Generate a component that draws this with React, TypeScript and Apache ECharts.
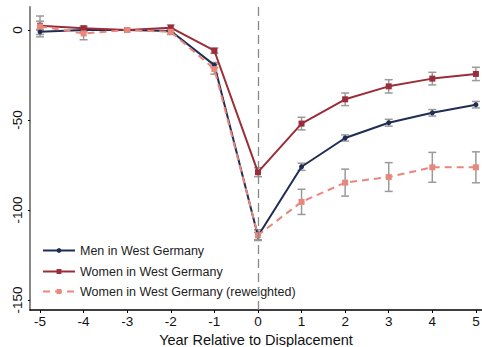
import React, { useEffect, useRef } from "react";
import * as echarts from "echarts";

const years = [-5, -4, -3, -2, -1, 0, 1, 2, 3, 4, 5];
const menValues = [-1, 0, 0, -0.5, -19.5, -114.5, -76, -60, -51.5, -46, -41.5];
const menErr = [1.5, 1, 0, 1, 1.5, 2, 2, 1.7, 1.9, 1.8, 1.8];
const womenValues = [2.4, 1, 0, 1.3, -11.5, -79, -52, -38.5, -31.3, -27, -24.4];
const womenErr = [2.5, 1.2, 0, 1.5, 1.5, 2.5, 3.5, 3.5, 3.7, 3.5, 3.7];
const rewValues = [2, -1.9, 0, -1, -21.7, -114, -95.5, -84.8, -81.7, -76.3, -76.3];
const rewErr = [5.8, 3.5, 0, 1.5, 2.8, 3, 7, 7.5, 8, 8.3, 8.6];
const yTicks = [0, -50, -100, -150];
const seriesNames = [
  "Men in West Germany",
  "Women in West Germany",
  "Women in West Germany (reweighted)",
];
const legendRowTops = [244, 265, 285];

const NAVY = "#1f2d55";
const RED = "#9b2d38";
const PINK = "#e8877b";
const GRAY = "#9a9a9a";

function errData(vals: number[], errs: number[]) {
  return years.map((x, i) => [x, vals[i] - errs[i], vals[i] + errs[i]]);
}

function errSeries(vals: number[], errs: number[]) {
  return {
    type: "custom",
    silent: true,
    z: 1,
    data: errData(vals, errs),
    renderItem: (params: any, api: any) => {
      const x = api.value(0);
      const lo = api.coord([x, api.value(1)]);
      const hi = api.coord([x, api.value(2)]);
      if (Math.abs(lo[1] - hi[1]) < 1) return { type: "group", children: [] };
      const w = 4;
      const style = { stroke: GRAY, lineWidth: 1.5 };
      return {
        type: "group",
        children: [
          { type: "line", shape: { x1: lo[0], y1: lo[1], x2: hi[0], y2: hi[1] }, style },
          { type: "line", shape: { x1: lo[0] - w, y1: lo[1], x2: lo[0] + w, y2: lo[1] }, style },
          { type: "line", shape: { x1: hi[0] - w, y1: hi[1], x2: hi[0] + w, y2: hi[1] }, style },
        ],
      };
    },
  };
}

export default function App() {
  const ref = useRef<HTMLDivElement>(null);
  useEffect(() => {
    const chart = echarts.init(ref.current!, null, { renderer: "svg" });
    const font = "Liberation Sans, Arial, sans-serif";
    chart.setOption({
      animation: false,
      textStyle: { fontFamily: font },
      grid: { left: 30, right: 0, top: 7, bottom: 37, containLabel: false, outerBoundsMode: "none" },
      legend: seriesNames.map((n, i) => ({
        data: [n],
        orient: "vertical",
        left: 42,
        top: legendRowTops[i],
        padding: 0,
        itemWidth: 32,
        itemHeight: 6,
        textStyle: { fontSize: 12.5, lineHeight: 12, color: "#222", fontFamily: font },
      })),
      xAxis: {
        type: "value",
        min: -5.23,
        max: 5.14,
        splitLine: { show: false },
        axisLine: { show: true, onZero: false, lineStyle: { color: "#000", width: 1.5 } },
        axisTick: { show: true, customValues: years, length: 3, lineStyle: { color: "#000" } },
        axisLabel: { customValues: years, fontSize: 13.5, color: "#111", margin: 4 },
        name: "Year Relative to Displacement",
        nameLocation: "middle",
        nameGap: 21,
        nameTextStyle: { fontSize: 14.5, color: "#111" },
      },
      yAxis: {
        type: "value",
        min: -155.6,
        max: 12.8,
        splitLine: { show: false },
        axisLine: { show: true, onZero: false, lineStyle: { color: "#888", width: 2 } },
        axisTick: { show: true, customValues: yTicks, length: 2, lineStyle: { color: "#000" } },
        axisLabel: { customValues: yTicks, fontSize: 13.5, color: "#111", rotate: 90, margin: 6 },
      },
      series: [
        errSeries(menValues, menErr),
        errSeries(womenValues, womenErr),
        errSeries(rewValues, rewErr),
        {
          name: seriesNames[0],
          type: "line",
          z: 3,
          data: years.map((x, i) => [x, menValues[i]]),
          symbol: "circle",
          symbolSize: 5,
          itemStyle: { color: NAVY },
          lineStyle: { color: NAVY, width: 2 },
          markLine: {
            silent: true,
            symbol: "none",
            label: { show: false },
            lineStyle: { color: "#888", type: [9, 5], width: 1.3 },
            data: [{ xAxis: 0 }],
          },
        },
        {
          name: seriesNames[1],
          type: "line",
          z: 3,
          data: years.map((x, i) => [x, womenValues[i]]),
          symbol: "rect",
          symbolSize: 6,
          itemStyle: { color: RED },
          lineStyle: { color: RED, width: 2 },
        },
        {
          name: seriesNames[2],
          type: "line",
          z: 3,
          data: years.map((x, i) => [x, rewValues[i]]),
          symbol: "rect",
          symbolSize: 6,
          itemStyle: { color: PINK },
          lineStyle: { color: PINK, width: 2, type: [7, 5] },
        },
      ],
    });
    return () => chart.dispose();
  }, []);
  return <div ref={ref} style={{ width: 482, height: 347, position: "absolute", left: 0, top: 0 }} />;
}
